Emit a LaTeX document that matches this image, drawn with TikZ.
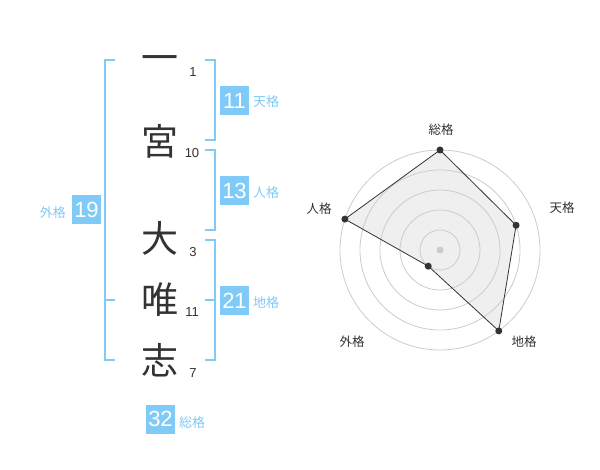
\documentclass[tikz,border=0pt]{standalone}
\usepackage{fontspec}
\setmainfont{Liberation Sans}
\newfontfamily\cjk{Noto Sans CJK JP}
\definecolor{accent}{HTML}{80CAF8}
\definecolor{ink}{HTML}{333333}
\definecolor{ring}{HTML}{CCCCCC}
\definecolor{area}{HTML}{EFEFEF}
\begin{document}
\begin{tikzpicture}[x=1pt,y=-1pt,
  kanji/.style={font=\cjk\fontsize{37}{37}\selectfont, text=ink, inner sep=0pt, text height=32.5pt, text depth=4.5pt},
  strokes/.style={font=\fontsize{13}{13}\selectfont, text=ink, inner sep=0pt},
  numbox/.style={fill=accent, text=white, font=\fontsize{22}{22}\selectfont, minimum size=29pt, inner sep=0pt},
  kaku/.style={font=\cjk\fontsize{13}{13}\selectfont, text=accent, inner sep=0pt, anchor=west},
  bracket/.style={draw=accent, line width=2pt},
  axislabel/.style={font=\cjk\fontsize{12.5}{12.5}\selectfont, text=ink, inner sep=0pt},
  ringline/.style={draw=ring, line width=0.8pt},
  dot/.style={circle, fill=ink, inner sep=0pt, minimum size=7pt}]
\useasboundingbox[fill=white] (0,0) rectangle (600,470);

% name characters
\node[kanji] (k1) at (160,58) {一};
\node[kanji] (k2) at (160,142) {宮};
\node[kanji] (k3) at (160,239) {大};
\node[kanji] (k4) at (160,300) {唯};
\node[kanji] (k5) at (160,360) {志};

% stroke counts
\node[strokes] (s1) at (193,72) {1};
\node[strokes] (s2) at (192,153) {10};
\node[strokes] (s3) at (193,252) {3};
\node[strokes] (s4) at (192,312) {11};
\node[strokes] (s5) at (193,373) {7};

% brackets
\draw[bracket] (115,60) -- (105,60) -- (105,360) -- (115,360);
\draw[bracket] (105,300) -- (115,300);
\draw[bracket] (205,60) -- (215,60) -- (215,140) -- (205,140);
\draw[bracket] (205,150) -- (215,150) -- (215,230) -- (205,230);
\draw[bracket] (205,240) -- (215,240) -- (215,360) -- (205,360);
\draw[bracket] (205,300) -- (215,300);

% results
\node[numbox] (ten) at (234.5,100.5) {11};
\node[kaku] (tenl) at (253,102) {天格};
\node[numbox] (jin) at (234.5,190.5) {13};
\node[kaku] (jinl) at (253,193) {人格};
\node[numbox] (chi) at (234.5,300.5) {21};
\node[kaku] (chil) at (253,303) {地格};
\node[numbox] (gai) at (86.5,210) {19};
\node[kaku, anchor=east] (gail) at (66,213) {外格};
\node[numbox] (sou) at (160.5,419) {32};
\node[kaku] (soul) at (179,423) {総格};

% radar chart
\begin{scope}[shift={(440,250)}]
  \coordinate (c) at (0,0);
  \coordinate (pS) at (-90:100);
  \coordinate (pT) at (-18:80);
  \coordinate (pC) at (54:100);
  \coordinate (pG) at (126:20);
  \coordinate (pJ) at (-162:100);
  \fill[area] (pS) -- (pT) -- (pC) -- (pG) -- (pJ) -- cycle;
  \foreach \r in {20,40,60,80,100} \draw[ringline] (c) circle[radius=\r];
  \fill[ring] (c) circle[radius=3.5];
  \draw[ink, line width=0.8pt] (pS) -- (pT) -- (pC) -- (pG) -- (pJ) -- cycle;
  \foreach \p in {pS,pT,pC,pG,pJ} \node[dot] at (\p) {};
\end{scope}
\node[axislabel] (lS) at (441,130) {総格};
\node[axislabel] (lT) at (562,208) {天格};
\node[axislabel] (lC) at (524,342) {地格};
\node[axislabel] (lG) at (352,342) {外格};
\node[axislabel] (lJ) at (319,209) {人格};
\end{tikzpicture}
\end{document}
